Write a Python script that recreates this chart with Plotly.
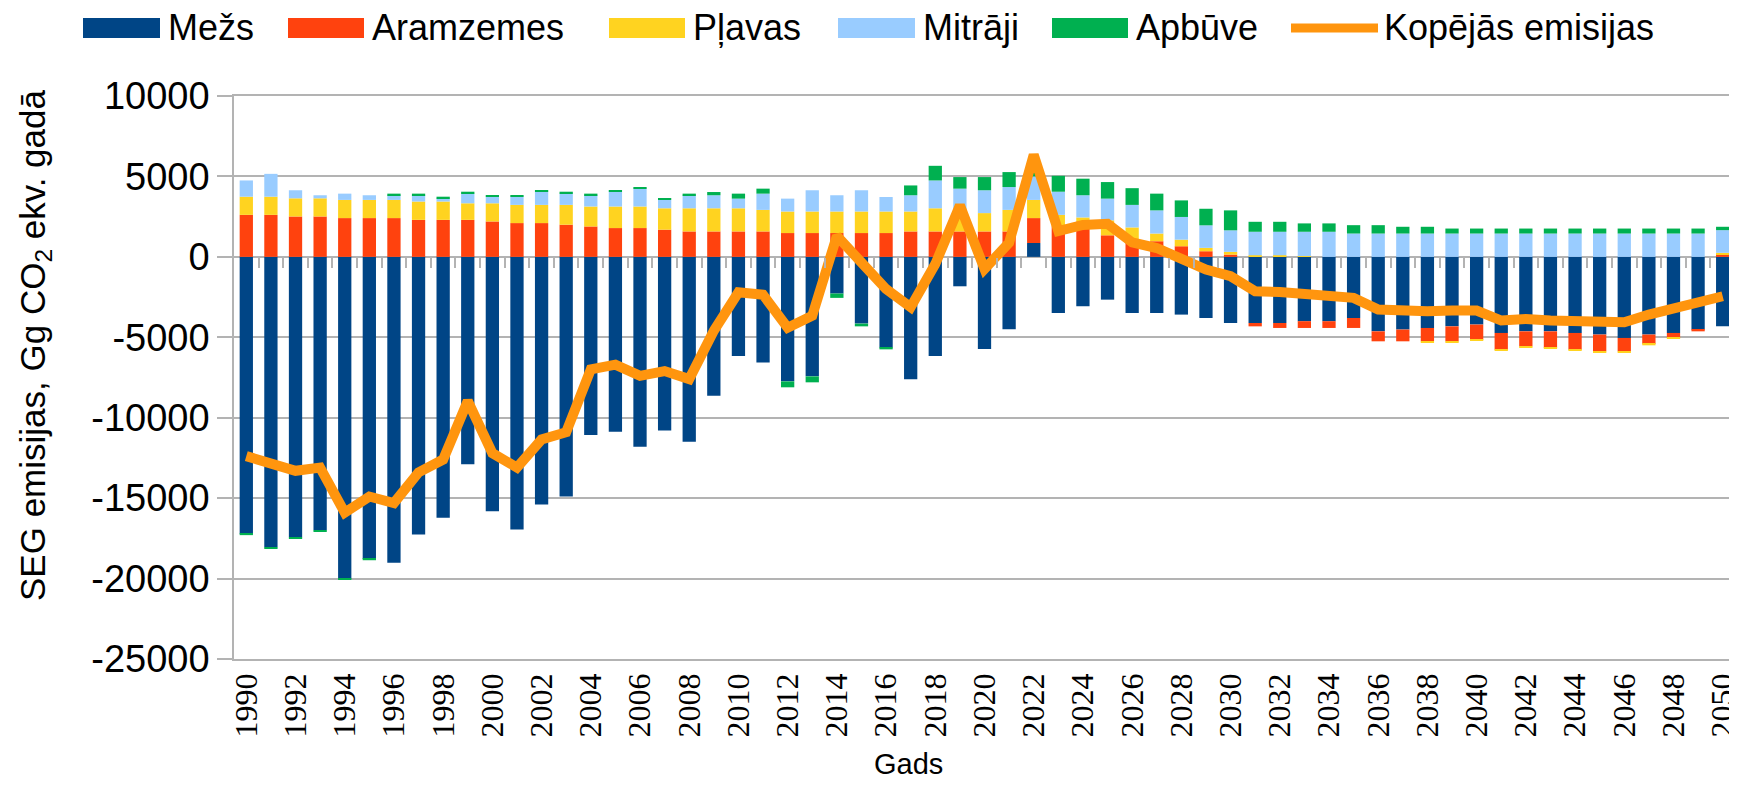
import plotly.graph_objects as go

# ---------------- data ----------------
years = list(range(1990, 2051))

mezs = [-17220, -18050, -17430, -17000, -20000, -18780, -19020, -17260, -16220, -12900,
        -15810, -16950, -15390, -14900, -11080, -10870, -11800, -10800, -11500, -8630,
        -6160, -6560, -7740, -7430, -2280, -4150, -5640, -7610, -6160, -1830,
        -5730, -4500, 860, -3490, -3070, -2660, -3490, -3490, -3590, -3800,
        -4110, -4110, -4110, -4000, -4000, -3800, -4630, -4520, -4420, -4320,
        -4210, -4730, -4630, -4630, -4730, -4830, -5040, -4830, -4730, -4520,
        -4320]

aramzemes = [2610, 2610, 2510, 2510, 2410, 2410, 2410, 2300, 2300, 2300,
             2200, 2100, 2100, 2000, 1890, 1790, 1790, 1690, 1580, 1580,
             1580, 1580, 1480, 1480, 1480, 1480, 1480, 1580, 1580, 1580,
             1580, 1580, 1550, 1900, 2200, 1340, 1000, 970, 660, 350,
             140, -210, -310, -420, -420, -620, -620, -730, -830, -930,
             -940, -1040, -930, -1030, -1040, -1040, -830, -580, -310, -110,
             150]

plavas = [1130, 1130, 1130, 1130, 1130, 1130, 1130, 1140, 1140, 1030,
          1130, 1130, 1130, 1230, 1240, 1340, 1340, 1330, 1440, 1440,
          1440, 1340, 1340, 1340, 1340, 1340, 1340, 1240, 1440, 1340,
          1140, 1340, 1130, 710, 250, 930, 830, 480, 410, 210,
          170, 100, 100, 50, 0, 0, 0, 0, -60, -60,
          -50, -60, -60, -70, -60, -60, -60, -90, -60, 0,
          100]

mitraji = [1010, 1420, 500, 190, 390, 290, 290, 390, 200, 600,
           410, 510, 820, 700, 700, 920, 1110, 520, 810, 810,
           600, 1010, 800, 1320, 1010, 1320, 900, 1010, 1730, 1320,
           1420, 1420, 1460, 1440, 1380, 1350, 1400, 1440, 1410, 1400,
           1340, 1460, 1460, 1510, 1560, 1450, 1450, 1450, 1450, 1450,
           1450, 1450, 1450, 1450, 1450, 1450, 1450, 1450, 1450, 1450,
           1410]

apbuve = [-80, -80, -80, -80, -80, -80, 100, 100, 100, 120,
          90, 90, 90, 120, 100, 90, 100, 100, 100, 200,
          310, 310, -370, -370, -270, -170, -110, 610, 910, 720,
          820, 930, 300, 990, 1030, 1030, 1040, 1040, 1030, 1030,
          1240, 620, 620, 520, 520, 520, 520, 420, 420, 310,
          310, 310, 310, 310, 310, 310, 310, 310, 310, 310,
          210]

kopejas = [-12390, -12900, -13300, -13100, -15900, -14900, -15300, -13400, -12600, -8960,
           -12200, -13100, -11350, -10900, -7000, -6700, -7400, -7100, -7600, -4600,
           -2200, -2350, -4400, -3660, 1300, -350, -2000, -3130, -450, 3200,
           -760, 880, 6340, 1600, 1980, 2060, 900, 550, -60, -790,
           -1200, -2140, -2180, -2300, -2410, -2550, -3280, -3380, -3380, -3340,
           -3340, -3960, -3860, -3960, -4000, -4070, -4070, -3590, -3170, -2760,
           -2450]

x_tick_labels = [str(y) for y in range(1990, 2051, 2)]
y_tick_values = [-25000, -20000, -15000, -10000, -5000, 0, 5000, 10000]
y_tick_labels = ["-25000", "-20000", "-15000", "-10000", "-5000", "0", "5000", "10000"]

bar_names = ["Mežs", "Aramzemes", "Pļavas", "Mitrāji", "Apbūve"]
line_name = "Kopējās emisijas"
y_title = "SEG emisijas, Gg CO<sub>2</sub> ekv. gadā"
x_title = "Gads"

# ---------------- style ----------------
bar_colors = ["#004586", "#ff420e", "#ffd320", "#99ccff", "#00b050"]
line_color = "#ff950e"
grid_color = "#b3b3b3"
sans = "Liberation Sans, Arial, sans-serif"
serif = "Liberation Serif, DejaVu Serif, Times New Roman, serif"

W, H = 1737, 786
L, R, T, B = 226, 10, 88, 135
PW, PH = W - L - R, H - T - B


def px(x):
    return (x - L) / PW


def py(y):
    return (H - B - y) / PH


fig = go.Figure()
for name, vals, col in zip(bar_names, [mezs, aramzemes, plavas, mitraji, apbuve], bar_colors):
    fig.add_trace(go.Bar(x=years, y=vals, name=name, marker=dict(color=col, line=dict(width=0)),
                         showlegend=False))

fig.add_trace(go.Scatter(x=years, y=kopejas, name=line_name, mode="lines",
                         line=dict(color=line_color, width=10), showlegend=False))

# helper trace so the zero-line tick axis is drawn
fig.add_trace(go.Scatter(x=years, y=[None] * len(years), xaxis="x2", mode="lines",
                         showlegend=False, hoverinfo="skip"))

# ---------------- custom legend ----------------
swatch_x = [(75, 152), (280, 356), (601, 677), (830, 907), (1044, 1120)]
line_swatch = (1283, 1370)
shapes = []
annotations = []
ly = 20
legend_font = dict(family=sans, size=36, color="black")
for (x0, x1), col, name in zip(swatch_x, bar_colors, bar_names):
    shapes.append(dict(type="rect", xref="paper", yref="paper", x0=px(x0), x1=px(x1),
                       y0=py(ly + 10), y1=py(ly - 10), fillcolor=col, line=dict(width=0)))
    annotations.append(dict(text=name, xref="paper", yref="paper", x=px(x1 + 6), y=py(ly),
                            xanchor="left", yanchor="middle", showarrow=False, font=legend_font))
shapes.append(dict(type="line", xref="paper", yref="paper", x0=px(line_swatch[0]), x1=px(line_swatch[1]),
                   y0=py(ly), y1=py(ly), line=dict(color=line_color, width=9)))
annotations.append(dict(text=line_name, xref="paper", yref="paper", x=px(line_swatch[1] + 4), y=py(ly),
                        xanchor="left", yanchor="middle", showarrow=False, font=legend_font))

# axis titles
annotations.append(dict(text=y_title, xref="paper", yref="paper", x=px(27), y=py(338),
                        xanchor="center", yanchor="middle", textangle=-90, showarrow=False,
                        font=dict(family=sans, size=35, color="black")))
annotations.append(dict(text=x_title, xref="paper", yref="paper", x=px(900), y=py(756),
                        xanchor="center", yanchor="middle", showarrow=False,
                        font=dict(family=sans, size=29, color="black")))

xr = [years[0] - 0.5, years[-1] + 0.5]
zero_pos = (0 - y_tick_values[0]) / (y_tick_values[-1] - y_tick_values[0])

fig.update_layout(
    width=W, height=H,
    margin=dict(l=L, r=R, t=T, b=B, pad=0),
    template="none",
    font=dict(family=sans, color="black"),
    paper_bgcolor="white", plot_bgcolor="white",
    barmode="relative", bargap=0.46,
    showlegend=False,
    shapes=shapes, annotations=annotations,
    xaxis=dict(type="linear", range=xr, tickmode="array",
               tickvals=[int(s) for s in x_tick_labels], ticktext=x_tick_labels,
               tickangle=-90, tickfont=dict(family=serif, size=32, color="black"),
               ticks="", ticklabelstandoff=0, ticklabeloverflow="allow",
               showgrid=False, zeroline=False,
               showline=True, linecolor=grid_color, linewidth=1.5, mirror=True,
               automargin=False),
    xaxis2=dict(type="linear", range=xr, overlaying="x", anchor="free", position=zero_pos,
                side="bottom", tickmode="array", tickvals=[y + 0.5 for y in years[:-1]],
                ticks="outside", ticklen=10, tickwidth=1.5, tickcolor=grid_color,
                showticklabels=False, showgrid=False, zeroline=False, showline=False,
                automargin=False),
    yaxis=dict(range=[y_tick_values[0], y_tick_values[-1]], tickmode="array",
               tickvals=y_tick_values, ticktext=y_tick_labels,
               tickfont=dict(family=sans, size=38, color="black"),
               ticks="outside", ticklen=15, tickwidth=1.5, tickcolor=grid_color,
               showgrid=True, gridcolor=grid_color, gridwidth=1.5,
               zeroline=True, zerolinecolor=grid_color, zerolinewidth=1.5,
               showline=True, linecolor=grid_color, linewidth=1.5, mirror=True,
               automargin=False),
)

fig.write_html("out.html", config={"displayModeBar": False})
